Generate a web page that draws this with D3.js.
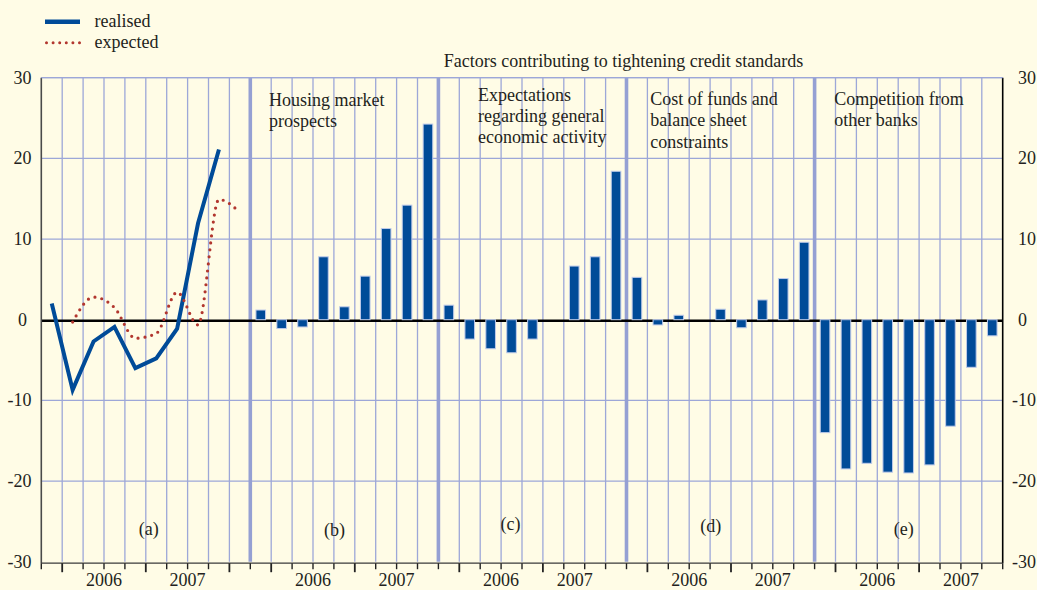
<!DOCTYPE html>
<html><head><meta charset="utf-8">
<script src="https://cdn.jsdelivr.net/npm/d3@7"></script>
<style>
html,body{margin:0;padding:0;background:#FFFCE6;}
svg{display:block;font-family:"Liberation Serif","Times New Roman",serif;}
</style>
</head><body>
<svg id="chart" width="1037" height="590"></svg>
<script>
// ---------------- data ----------------
const panelIds = ["a", "b", "c", "d", "e"];
const panelLetters = ["(a)", "(b)", "(c)", "(d)", "(e)"];
const panelTitles = [
  [],
  ["Housing market", "prospects"],
  ["Expectations", "regarding general", "economic activity"],
  ["Cost of funds and", "balance sheet", "constraints"],
  ["Competition from", "other banks"]
];
const mainTitle = "Factors contributing to tightening credit standards";
const quartersA = ["2005Q4","2006Q1","2006Q2","2006Q3","2006Q4","2007Q1","2007Q2","2007Q3","2007Q4","2008Q1"];
const quartersBars = ["2005Q4","2006Q1","2006Q2","2006Q3","2006Q4","2007Q1","2007Q2","2007Q3","2007Q4"];
const realisedQ = ["2005Q4","2006Q1","2006Q2","2006Q3","2006Q4","2007Q1","2007Q2","2007Q3","2007Q4"];
const realised = [2.0, -8.7, -2.7, -0.9, -6.0, -4.8, -1.1, 11.95, 21.1];
const expectedQ = ["2006Q1","2006Q2","2006Q3","2006Q4","2007Q1","2007Q2","2007Q3","2007Q4","2008Q1"];
const expected = [-0.3, 2.8, 1.5, -2.3, -1.7, 3.4, -0.65, 14.9, 13.3];
const housing = [1.2, -1.1, -0.9, 7.8, 1.6, 5.4, 11.3, 14.2, 24.25];
const economic = [1.8, -2.4, -3.6, -4.1, -2.4, 0, 6.65, 7.8, 18.4];
const costFunds = [5.25, -0.65, 0.55, 0, 1.3, -1.0, 2.45, 5.1, 9.6];
const competition = [-14.0, -18.5, -17.8, -18.9, -19.0, -18.0, -13.2, -5.9, -2.0];
const yTicks = [-30, -20, -10, 0, 10, 20, 30];
const yearLabels = ["2006", "2007"];
const legendLabels = ["realised", "expected"];

// ---------------- layout ----------------
const W = 1037, H = 590;
const X0 = 41.3, X1 = 1002.7, YTOP = 77.7, YBOT = 561.7;
const C = {
  bg: "#FFFCE6", grid: "#9DA7D8", sep: "#95A0D3", bar: "#004B98",
  barStroke: "#BFCBEA", line: "#004B98", exp: "#B2362E", text: "#231F20"
};
const FONT = 18;

const svg = d3.select("#chart");
svg.append("rect").attr("width", W).attr("height", H).attr("fill", C.bg);

// combined band domain
const panelQuarters = [quartersA, quartersBars, quartersBars, quartersBars, quartersBars];
const keys = [];
panelIds.forEach((p, i) => panelQuarters[i].forEach(q => keys.push(p + "|" + q)));
const x = d3.scaleBand().domain(keys).range([X0, X1]).paddingInner(0).paddingOuter(0);
const bw = x.bandwidth();
const y = d3.scaleLinear().domain([-30, 30]).range([YBOT, YTOP]);

const g = svg.append("g");
const isPanelStart = d => d.endsWith(panelQuarters[panelIds.indexOf(d[0])][0]);

// horizontal gridlines
g.selectAll("line.hg").data(yTicks.filter(v => v !== 0 && v !== -30)).enter().append("line")
  .attr("x1", X0).attr("x2", X1).attr("y1", d => y(d)).attr("y2", d => y(d))
  .attr("stroke", C.grid).attr("stroke-width", 1.3);

// vertical gridlines at every slot boundary
g.selectAll("line.vg").data(keys.slice(1)).enter().append("line")
  .attr("x1", d => x(d)).attr("x2", d => x(d))
  .attr("y1", YTOP).attr("y2", YBOT)
  .attr("stroke", d => isPanelStart(d) ? C.sep : C.grid)
  .attr("stroke-width", d => isPanelStart(d) ? 3.6 : 1.3);

// zero line
g.append("line").attr("x1", X0).attr("x2", X1).attr("y1", y(0) + 1).attr("y2", y(0) + 1)
  .attr("stroke", "#000").attr("stroke-width", 2.6);

// bars
const barSeries = [null, housing, economic, costFunds, competition];
const barW = bw * 0.46;
barSeries.forEach((vals, i) => {
  if (!vals) return;
  const pid = panelIds[i];
  g.selectAll("rect.b" + pid).data(vals.map((v, j) => ({k: pid + "|" + quartersBars[j], v})).filter(d => d.v !== 0))
    .enter().append("rect")
    .attr("x", d => x(d.k) + (bw - barW) / 2)
    .attr("width", barW)
    .attr("y", d => d.v > 0 ? y(d.v) : y(0))
    .attr("height", d => Math.abs(y(d.v) - y(0)))
    .attr("fill", C.bar).attr("stroke", C.barStroke).attr("stroke-width", 1);
});

// lines in panel (a)
const cx = k => x("a|" + k) + bw / 2;
const lineR = d3.line().x(d => cx(d.q)).y(d => y(d.v));
g.append("path").datum(realisedQ.map((q, i) => ({q, v: realised[i]})))
  .attr("d", lineR).attr("fill", "none").attr("stroke", C.line)
  .attr("stroke-width", 4).attr("stroke-linejoin", "miter");
const lineE = d3.line().x(d => cx(d.q)).y(d => y(d.v)).curve(d3.curveMonotoneX);
g.append("path").datum(expectedQ.map((q, i) => ({q, v: expected[i]})))
  .attr("d", lineE).attr("fill", "none").attr("stroke", C.exp)
  .attr("stroke-width", 3.2).attr("stroke-linecap", "round").attr("stroke-dasharray", "0 7");

// axes lines
g.append("line").attr("x1", X0).attr("x2", X0).attr("y1", YTOP).attr("y2", YBOT + 1.5)
  .attr("stroke", "#4a4a4a").attr("stroke-width", 1.6);
g.append("line").attr("x1", X1).attr("x2", X1).attr("y1", YTOP).attr("y2", YBOT + 1.5)
  .attr("stroke", "#000").attr("stroke-width", 1.6);
g.append("line").attr("x1", X0).attr("x2", X1).attr("y1", y(30)).attr("y2", y(30))
  .attr("stroke", C.grid).attr("stroke-width", 1.3);
// bottom axis
const AX = YBOT + 1.5;
g.append("line").attr("x1", X0).attr("x2", X1).attr("y1", AX).attr("y2", AX)
  .attr("stroke", "#3a3a3a").attr("stroke-width", 1.3);
g.selectAll("line.tk").data(keys.concat(["end"])).enter().append("line")
  .attr("x1", d => d === "end" ? X1 : x(d)).attr("x2", d => d === "end" ? X1 : x(d))
  .attr("y1", AX).attr("y2", d => (d !== "end" && d.endsWith("Q1")) ? AX + 9 : AX + 6)
  .attr("stroke", "#222").attr("stroke-width", d => (d !== "end" && d.endsWith("Q1")) ? 1.8 : 1.4);

// year labels
const yearNudge = {"c|2007": -10};
panelIds.forEach((pid, i) => {
  yearLabels.forEach(yr => {
    const qs = panelQuarters[i].filter(q => q.startsWith(yr));
    const xa = x(pid + "|" + qs[0]), xb = x(pid + "|" + qs[qs.length - 1]) + bw;
    svg.append("text").attr("x", (xa + xb) / 2 + (yearNudge[pid + "|" + yr] || 0)).attr("y", 586)
      .attr("text-anchor", "middle").attr("font-size", FONT).attr("fill", C.text).text(yr);
  });
});

// y tick labels (digits aligned, minus sign hanging)
const digitW = FONT * 0.5;
yTicks.forEach(v => {
  const nd = String(Math.abs(v)).length;
  svg.append("text").attr("x", 22.5 + nd * digitW / 2).attr("y", y(v) + 6)
    .attr("text-anchor", "end").attr("font-size", FONT).attr("fill", C.text).text(String(v));
  svg.append("text").attr("x", 1018 + nd * digitW).attr("y", y(v) + 6)
    .attr("text-anchor", "end").attr("font-size", FONT).attr("fill", C.text).text(String(v));
});

// panel letters
const letterOffset = [5.14, 4.03, 3.45, 4.03, 4.27];
const letterBase = [535, 536, 530, 532, 535];
panelIds.forEach((pid, i) => {
  const start = x(pid + "|" + panelQuarters[i][0]);
  svg.append("text").attr("x", start + letterOffset[i] * bw).attr("y", letterBase[i])
    .attr("text-anchor", "middle").attr("font-size", FONT).attr("fill", C.text).text(panelLetters[i]);
});

// panel titles
const titleOffset = [0, 0.9, 1.9, 1.14, 0.94];
const titleBase = [0, 106, 100.7, 105, 105];
const lineH = 21.3;
panelIds.forEach((pid, i) => {
  if (!panelTitles[i].length) return;
  const start = x(pid + "|" + panelQuarters[i][0]);
  const t = svg.append("text").attr("font-size", FONT).attr("fill", C.text);
  panelTitles[i].forEach((s, j) => {
    t.append("tspan").attr("x", start + titleOffset[i] * bw).attr("y", titleBase[i] + j * lineH).text(s);
  });
});

// main title
svg.append("text").attr("x", 623.5).attr("y", 67).attr("text-anchor", "middle")
  .attr("font-size", FONT).attr("fill", C.text).text(mainTitle);

// legend
svg.append("line").attr("x1", 45).attr("x2", 80).attr("y1", 21.7).attr("y2", 21.7)
  .attr("stroke", C.line).attr("stroke-width", 4.5);
svg.append("line").attr("x1", 46.5).attr("x2", 80).attr("y1", 42.7).attr("y2", 42.7)
  .attr("stroke", C.exp).attr("stroke-width", 3).attr("stroke-linecap", "round").attr("stroke-dasharray", "0 6.6");
svg.append("text").attr("x", 94.5).attr("y", 27.3).attr("font-size", FONT).attr("fill", C.text).text(legendLabels[0]);
svg.append("text").attr("x", 94.5).attr("y", 47.7).attr("font-size", FONT).attr("fill", C.text).text(legendLabels[1]);
</script>
</body></html>
